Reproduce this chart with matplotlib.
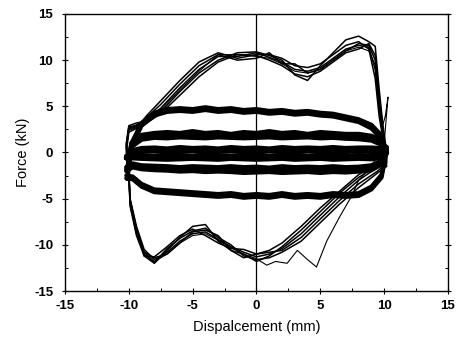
import matplotlib.pyplot as plt
from matplotlib.ticker import MultipleLocator

plt.rcParams['font.family'] = ['Liberation Sans', 'DejaVu Sans']

tick_vals = [-15, -10, -5, 0, 5, 10, 15]
tick_labels = ["-15", "-10", "-5", "0", "5", "10", "15"]

# --- inner loops (small / medium / large amplitude), shared displacement path
in_up_x = [-10.1, -9.8, -9.0, -8.0, -7.0, -6.0, -5.0, -4.0, -3.0, -2.0, -1.0, 0.0,
           1.0, 2.0, 3.0, 4.0, 5.0, 6.0, 7.0, 8.0, 9.0, 9.7, 10.1]
in_lo_x = [10.2, 9.8, 9.0, 8.0, 7.0, 6.0, 5.0, 4.0, 3.0, 2.0, 1.0, 0.0,
           -1.0, -2.0, -3.0, -4.0, -5.0, -6.0, -7.0, -8.0, -9.0, -9.7, -10.2]

small_up = [
    [-0.4, 0.2, 0.45, 0.5, 0.4, 0.55, 0.45, 0.5, 0.4, 0.55, 0.45, 0.5, 0.4, 0.55, 0.45, 0.5, 0.45, 0.55, 0.45, 0.5, 0.5, 0.45, 0.1],
    [-0.5, 0.1, 0.3, 0.25, 0.3, 0.2, 0.3, 0.25, 0.2, 0.3, 0.25, 0.2, 0.3, 0.25, 0.3, 0.2, 0.25, 0.3, 0.2, 0.3, 0.25, 0.2, 0.0],
    [-0.6, 0.0, 0.1, 0.15, 0.05, 0.1, 0.15, 0.05, 0.1, 0.15, 0.1, 0.05, 0.15, 0.1, 0.05, 0.15, 0.1, 0.05, 0.1, 0.15, 0.1, 0.05, -0.1],
]
small_lo = [
    [0.1, -0.35, -0.4, -0.3, -0.4, -0.35, -0.3, -0.4, -0.35, -0.3, -0.4, -0.35, -0.3, -0.4, -0.35, -0.3, -0.4, -0.35, -0.3, -0.4, -0.35, -0.3, -0.4],
    [0.0, -0.45, -0.55, -0.5, -0.6, -0.5, -0.55, -0.5, -0.6, -0.5, -0.55, -0.6, -0.5, -0.55, -0.5, -0.6, -0.55, -0.5, -0.6, -0.5, -0.55, -0.5, -0.5],
    [-0.1, -0.55, -0.7, -0.65, -0.7, -0.75, -0.65, -0.7, -0.75, -0.65, -0.7, -0.75, -0.7, -0.65, -0.75, -0.7, -0.65, -0.7, -0.75, -0.7, -0.65, -0.6, -0.6],
]

medium_up = [
    [-1.6, 1.0, 1.9, 2.1, 2.2, 2.1, 2.3, 2.1, 2.2, 2.0, 2.2, 2.1, 2.3, 2.1, 2.2, 2.0, 2.2, 2.1, 2.0, 2.0, 1.8, 1.4, 0.6],
    [-1.8, 0.8, 1.7, 1.85, 1.9, 1.8, 1.95, 1.85, 1.9, 1.8, 1.95, 1.85, 1.9, 1.85, 1.9, 1.8, 1.9, 1.8, 1.75, 1.7, 1.5, 1.1, 0.4],
    [-2.0, 0.6, 1.4, 1.6, 1.55, 1.65, 1.6, 1.55, 1.65, 1.6, 1.55, 1.6, 1.65, 1.55, 1.6, 1.65, 1.55, 1.6, 1.5, 1.45, 1.3, 0.9, 0.2],
]
medium_lo = [
    [0.6, -0.9, -1.4, -1.55, -1.6, -1.5, -1.6, -1.55, -1.6, -1.5, -1.65, -1.55, -1.6, -1.5, -1.6, -1.55, -1.5, -1.6, -1.5, -1.45, -1.4, -1.2, -1.6],
    [0.4, -1.1, -1.6, -1.8, -1.85, -1.8, -1.9, -1.8, -1.85, -1.9, -1.8, -1.85, -1.9, -1.8, -1.85, -1.8, -1.75, -1.8, -1.7, -1.65, -1.6, -1.4, -1.8],
    [0.2, -1.3, -1.9, -2.05, -2.15, -2.1, -2.2, -2.1, -2.15, -2.2, -2.1, -2.15, -2.2, -2.1, -2.05, -2.1, -2.0, -2.05, -1.95, -1.9, -1.8, -1.6, -2.0],
]

large_up = [
    [-2.5, 1.0, 3.2, 4.3, 4.7, 4.8, 4.7, 4.9, 4.7, 4.8, 4.6, 4.7, 4.5, 4.6, 4.4, 4.5, 4.3, 4.2, 3.9, 3.6, 3.0, 2.0, 0.5],
    [-2.8, 0.6, 2.9, 4.0, 4.4, 4.5, 4.4, 4.6, 4.4, 4.5, 4.3, 4.4, 4.2, 4.3, 4.1, 4.2, 4.0, 3.9, 3.6, 3.3, 2.6, 1.6, 0.2],
]
large_lo = [
    [0.5, -2.4, -3.7, -4.4, -4.5, -4.4, -4.6, -4.5, -4.6, -4.4, -4.6, -4.5, -4.6, -4.4, -4.5, -4.4, -4.3, -4.2, -4.1, -4.0, -3.4, -2.6, -2.5],
    [0.2, -2.7, -4.0, -4.7, -4.8, -4.7, -4.9, -4.8, -4.9, -4.7, -4.9, -4.8, -4.9, -4.7, -4.8, -4.7, -4.6, -4.5, -4.4, -4.3, -3.7, -2.9, -2.8],
]

# --- outer loops (about +/-11 kN), shared displacement path
xl_up_x = [-10.0, -10.2, -10.0, -9.4, -8.6, -7.5, -6.0, -4.5, -3.0, -1.5, 0.0, 1.0,
           2.0, 3.0, 4.0, 5.0, 6.0, 7.0, 8.0, 8.8, 9.3, 9.6, 9.9, 10.1]
xl_lo_x = [10.2, 9.5, 8.0, 6.5, 5.0, 3.5, 2.0, 1.0, 0.0, -1.0, -2.0, -3.0,
           -4.0, -5.0, -6.0, -7.0, -8.0, -8.8, -9.4, -9.9, -10.0]

xl_up = [
    [-2.0, 0.5, 2.6, 3.0, 3.6, 4.8, 7.0, 9.0, 10.4, 10.4, 10.8, 10.3, 9.8, 9.0, 8.8, 9.2, 10.2, 11.2, 11.6, 11.4, 9.0, 5.0, 2.0, 0.0],
    [-1.5, 1.0, 2.8, 2.9, 3.2, 4.2, 6.2, 8.2, 9.8, 10.6, 10.5, 10.0, 9.4, 8.5, 8.2, 8.8, 9.8, 10.8, 11.2, 11.8, 10.5, 6.0, 2.5, 0.5],
    [-2.5, 0.0, 2.2, 2.6, 4.0, 5.6, 7.8, 9.8, 10.8, 10.2, 10.6, 10.6, 10.2, 9.4, 9.2, 9.6, 10.6, 11.6, 12.0, 11.2, 8.0, 4.0, 1.5, -0.5],
    [-2.0, 0.8, 2.9, 3.2, 3.4, 4.4, 6.6, 8.6, 10.0, 10.8, 10.9, 10.5, 10.0, 8.4, 7.8, 9.4, 10.8, 12.2, 12.6, 12.0, 11.5, 7.0, 3.0, 1.0],
    [-1.8, 0.6, 2.5, 2.8, 3.8, 5.2, 7.4, 9.4, 10.6, 10.0, 10.2, 10.8, 9.6, 9.6, 8.6, 9.0, 10.0, 11.0, 11.8, 11.6, 10.0, 5.5, 1.8, 0.2],
]
xl_lo = [
    [-1.0, -1.6, -3.0, -4.8, -6.8, -8.8, -10.4, -11.0, -11.3, -10.8, -10.2, -9.4, -8.6, -8.8, -9.6, -10.8, -11.6, -10.5, -8.0, -5.0, -2.0],
    [-0.6, -1.2, -2.4, -4.2, -6.0, -8.0, -9.8, -10.6, -11.0, -10.5, -10.4, -9.8, -9.0, -8.3, -9.0, -10.2, -11.3, -11.2, -9.0, -5.8, -2.5],
    [-1.5, -2.2, -3.8, -5.6, -7.6, -9.6, -10.8, -11.4, -11.6, -11.2, -10.0, -9.2, -8.2, -8.5, -9.3, -10.4, -11.9, -11.0, -8.6, -5.4, -2.5],
    [-0.8, -1.4, -2.7, -4.4, -6.4, -8.4, -10.2, -11.2, -11.8, -11.0, -10.6, -9.6, -7.8, -8.0, -9.2, -10.6, -12.0, -11.2, -8.4, -5.2, -2.0],
    [-1.2, -2.0, -3.4, -5.2, -7.2, -9.2, -10.6, -10.8, -11.0, -11.4, -10.6, -9.0, -8.4, -8.6, -9.8, -11.0, -11.4, -10.8, -8.8, -5.6, -2.2],
]

# --- one odd cycle with the spike at the right end and the wandering unloading branch
odd_x = [-10.0, -10.2, -10.0, -9.4, -8.6, -7.5, -6.0, -4.5, -3.0, -1.5, 0.0, 1.0,
         2.0, 3.0, 4.0, 5.0, 6.0, 7.0, 8.0, 8.8, 9.3, 9.6, 9.9, 10.1, 10.3,
         10.0, 9.0, 8.0, 7.5, 6.5, 5.5, 4.7, 4.0, 3.2, 2.4, 1.5, 0.8, 0.0,
         -1.0, -2.0, -3.0, -4.0, -5.0, -6.0, -7.0, -8.0, -8.8, -9.4, -9.9, -10.0]
odd_f = [-2.2, 0.3, 2.4, 2.7, 3.4, 4.6, 6.8, 8.8, 10.6, 10.6, 10.4, 10.2, 9.6, 8.8, 8.6, 9.0, 10.0, 11.0, 11.4, 11.0, 9.5, 6.0, 3.0, 4.0, 6.0,
         1.0, -1.5, -3.0, -4.6, -7.0, -9.6, -12.4, -11.6, -10.6, -12.0, -11.8, -12.2, -11.5,
         -11.0, -10.3, -9.5, -8.8, -9.0, -9.8, -11.0, -11.8, -10.8, -8.2, -5.0, -2.2]

fig = plt.figure(figsize=(4.59, 3.41), dpi=100)
ax = fig.add_axes([0.1416, 0.1466, 0.8344, 0.8124])


def draw_loop(ux, uf, lx, lf, lw):
    xs = ux + lx + [ux[0]]
    fs = uf + lf + [uf[0]]
    ax.plot(xs, fs, color='black', lw=lw, solid_joinstyle='round')


for uf, lf in zip(xl_up, xl_lo):
    draw_loop(xl_up_x, uf, xl_lo_x, lf, 1.1)
ax.plot(odd_x, odd_f, color='black', lw=0.8)

for uf, lf in zip(large_up, large_lo):
    draw_loop(in_up_x, uf, in_lo_x, lf, 3.0)
for uf, lf in zip(medium_up, medium_lo):
    draw_loop(in_up_x, uf, in_lo_x, lf, 3.2)
for uf, lf in zip(small_up, small_lo):
    draw_loop(in_up_x, uf, in_lo_x, lf, 3.5)

ax.axvline(0, color='black', lw=0.9)

ax.set_xlim(-15, 15)
ax.set_ylim(-15, 15)
ax.set_xticks(tick_vals)
ax.set_xticklabels(tick_labels, fontweight='bold', fontsize=9.5)
ax.set_yticks(tick_vals)
ax.set_yticklabels(tick_labels, fontweight='bold', fontsize=9.5)
ax.xaxis.set_minor_locator(MultipleLocator(2.5))
ax.yaxis.set_minor_locator(MultipleLocator(2.5))
ax.tick_params(which='major', direction='inout', length=5, width=0.8)
ax.tick_params(axis='y', which='major', pad=6)
ax.tick_params(axis='x', which='major', pad=4)
ax.tick_params(which='minor', direction='in', length=2.5, width=0.7)
ax.tick_params(which='both', right=True)
for sp in ax.spines.values():
    sp.set_linewidth(1.0)

ax.set_xlabel("Dispalcement (mm)", fontsize=10.5, labelpad=6)
ax.set_ylabel("Force (kN)", fontsize=10.5, labelpad=3)

plt.savefig("out.png", dpi=100)
